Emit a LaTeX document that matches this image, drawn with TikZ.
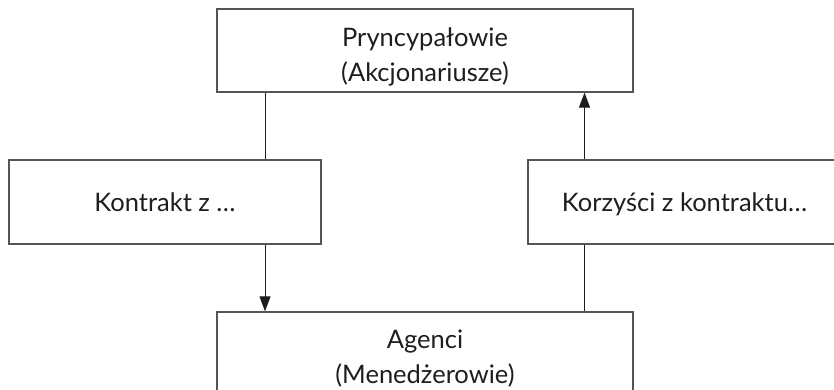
\documentclass[tikz,border=0pt]{standalone}
\usepackage{fontspec}
\setmainfont{Lato}
\usetikzlibrary{arrows.meta}
\definecolor{boxgray}{HTML}{555555}
\definecolor{ink}{HTML}{1E1E1E}
\begin{document}
\begin{tikzpicture}[x=1pt,y=-1pt,
  box/.style={draw=boxgray, line width=1.3pt, rectangle, inner sep=0pt, align=center,
    text=ink, font=\fontsize{25.5}{35}\selectfont},
  conn/.style={draw=ink, line width=1pt},
  arr/.style={conn, -{Triangle[length=15pt,width=11pt]}}]
\useasboundingbox (0,0) rectangle (834,390);
\clip (0,0) rectangle (834,390);
\node[box, minimum width=416pt, minimum height=83pt, text height=66pt, text depth=3pt] (top) at (425,50.5)
  {Pryncypałowie\\(Akcjonariusze)};
\node[box, minimum width=312pt, minimum height=84pt, text height=22pt, text depth=2.6pt] (left) at (165,202)
  {Kontrakt z …};
\node[box, minimum width=313pt, minimum height=84pt, text height=22pt, text depth=2.6pt] (right) at (684.5,202)
  {Korzyści z kontraktu…};
\node[box, minimum width=416pt, minimum height=83pt, text height=62pt, text depth=3pt] (bot) at (425,353.5)
  {Agenci\\(Menedżerowie)};
\coordinate (xL) at (265,0);
\coordinate (xR) at (584.5,0);
\draw[conn] (top.south -| xL) -- (left.north -| xL);
\draw[arr] (left.south -| xL) -- (bot.north -| xL);
\draw[conn] (bot.north -| xR) -- (right.south -| xR);
\draw[arr] (right.north -| xR) -- (top.south -| xR);
\end{tikzpicture}
\end{document}
